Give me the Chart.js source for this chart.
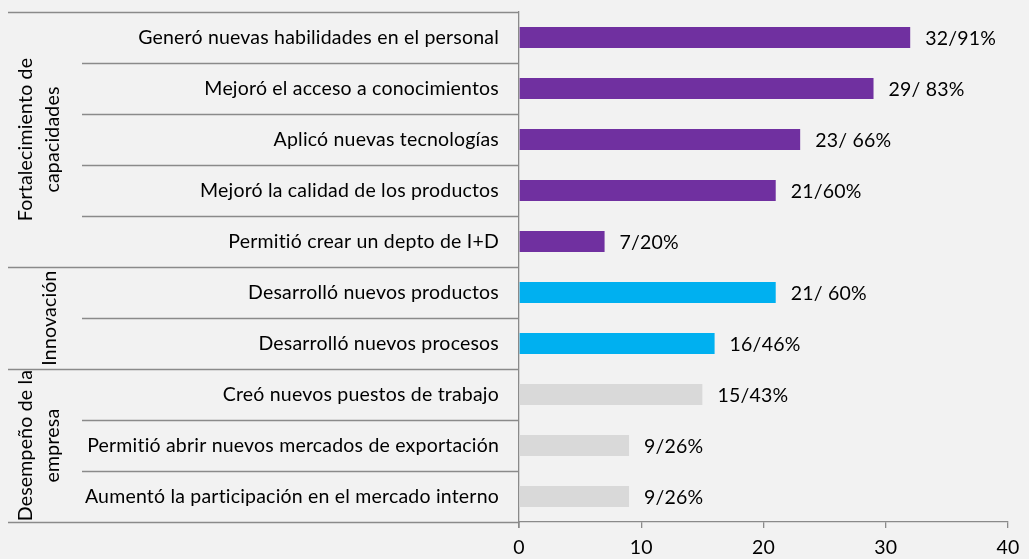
<!DOCTYPE html>
<html>
<head>
<meta charset="utf-8">
<script src="https://cdn.jsdelivr.net/npm/chart.js@4"></script>
<style>
  html, body { margin: 0; padding: 0; background: #f2f2f2; }
  #wrap { width: 1029px; height: 559px; position: relative; }
</style>
</head>
<body>
<div id="wrap"><canvas id="chart"></canvas></div>
<script>
const categories = [
  'Generó nuevas habilidades en el personal',
  'Mejoró el acceso a conocimientos',
  'Aplicó nuevas tecnologías',
  'Mejoró la calidad de los productos',
  'Permitió crear un depto de I+D',
  'Desarrolló nuevos productos',
  'Desarrolló nuevos procesos',
  'Creó nuevos puestos de trabajo',
  'Permitió abrir nuevos mercados de exportación',
  'Aumentó la participación en el mercado interno'
];
const counts = [32, 29, 23, 21, 7, 21, 16, 15, 9, 9];
const valueLabels = ['32/91%', '29/ 83%', '23/ 66%', '21/60%', '7/20%', '21/ 60%', '16/46%', '15/43%', '9/26%', '9/26%'];
const groupNames = [['Fortalecimiento de', 'capacidades'], ['Innovación'], ['Desempeño de la', 'empresa']];
const groupSizes = [5, 2, 3];
const xTicks = [0, 10, 20, 30, 40];

const groupColors = ['#7030A0', '#00B0F0', '#D9D9D9'];
const FONT = 'Lato';
const FS = 19.5;
const LINE = '#8a8a8a';

const barColors = [];
groupSizes.forEach((n, g) => { for (let i = 0; i < n; i++) barColors.push(groupColors[g]); });

const decorPlugin = {
  id: 'decor',
  beforeDraw(chart) {
    // a bit of spacing, also keeps Lato from joining "ti"
    chart.ctx.letterSpacing = '0.2px';
  },
  afterDraw(chart) {
    const { ctx, chartArea } = chart;
    const y = chart.scales.y;
    const axisX = chartArea.left;
    const n = categories.length;
    const bound = (i) => {
      if (i <= 0) return chartArea.top;
      if (i >= n) return chartArea.bottom;
      return (y.getPixelForValue(i - 1) + y.getPixelForValue(i)) / 2;
    };
    const groupStarts = [0];
    groupSizes.forEach((s, g) => groupStarts.push(groupStarts[g] + s));

    ctx.save();
    ctx.letterSpacing = '0.2px';
    ctx.strokeStyle = LINE;
    ctx.lineWidth = 1.3;
    for (let i = 0; i <= n; i++) {
      const py = Math.round(bound(i)) + 0.5;
      const startX = groupStarts.includes(i) ? 8 : 82;
      ctx.beginPath();
      ctx.moveTo(startX, py);
      ctx.lineTo(axisX, py);
      ctx.stroke();
    }
    // axis line runs a little past the bottom
    ctx.beginPath();
    ctx.moveTo(axisX, chartArea.bottom);
    ctx.lineTo(axisX, chartArea.bottom + 6);
    ctx.stroke();

    // group labels, rotated
    ctx.fillStyle = '#000';
    ctx.font = `${FS}px ${FONT}`;
    ctx.textAlign = 'center';
    ctx.textBaseline = 'middle';
    groupNames.forEach((lines, g) => {
      const cy = (bound(groupStarts[g]) + bound(groupStarts[g + 1])) / 2;
      const xs = lines.length === 2 ? [26, 53] : [50];
      lines.forEach((t, k) => {
        ctx.save();
        ctx.translate(xs[k], cy);
        ctx.rotate(-Math.PI / 2);
        ctx.fillText(t, 0, 0);
        ctx.restore();
      });
    });

    // value labels
    ctx.textAlign = 'left';
    const meta = chart.getDatasetMeta(0);
    meta.data.forEach((bar, i) => {
      ctx.fillText(valueLabels[i], bar.x + 15, bar.y + 1);
    });
    ctx.restore();
  }
};

new Chart(document.getElementById('chart'), {
  type: 'bar',
  data: {
    labels: categories,
    datasets: [{
      data: counts,
      backgroundColor: barColors,
      borderWidth: 0,
      barPercentage: 0.41,
      categoryPercentage: 1
    }]
  },
  options: {
    indexAxis: 'y',
    responsive: true,
    maintainAspectRatio: false,
    animation: false,
    layout: { padding: { top: 12, right: 21, left: 0, bottom: 0 } },
    plugins: { legend: { display: false }, tooltip: { enabled: false } },
    scales: {
      x: {
        min: 0,
        max: 40,
        afterBuildTicks: (axis) => { axis.ticks = xTicks.map((v) => ({ value: v })); },
        afterFit: (axis) => { axis.height = 37; axis.paddingLeft = 0; axis.paddingRight = 0; },
        grid: { drawOnChartArea: false, drawTicks: true, tickLength: 6, color: LINE, lineWidth: 1.3 },
        border: { display: true, color: LINE, width: 1.3 },
        ticks: { color: '#000', font: { family: FONT, size: FS }, padding: 8, maxRotation: 0 }
      },
      y: {
        afterFit: (axis) => { axis.width = 519; axis.paddingTop = 0; axis.paddingBottom = 0; },
        grid: { display: false, drawTicks: false },
        border: { display: true, color: LINE, width: 1.3 },
        ticks: { color: '#000', font: { family: FONT, size: FS }, padding: 20, autoSkip: false }
      }
    }
  },
  plugins: [decorPlugin]
});
</script>
</body>
</html>
